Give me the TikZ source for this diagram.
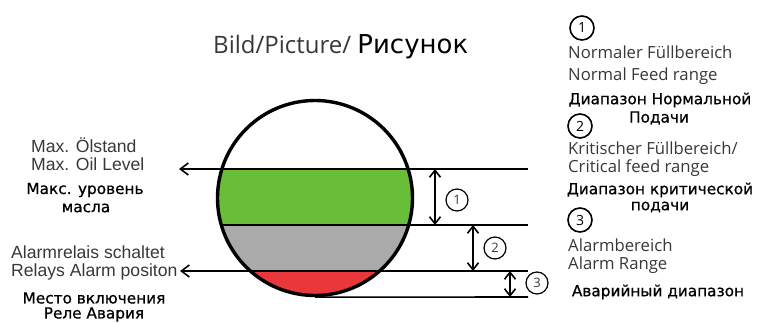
\documentclass[tikz,border=0pt]{standalone}
\usepackage{fontspec}
\setmainfont{Open Sans}
\newfontfamily\lfont{Liberation Sans}
\newfontfamily\rufont[FakeBold=0.8]{DejaVu Sans}
\newfontfamily\titleru{DejaVu Sans}
\usetikzlibrary{positioning, calc, arrows.meta}

\definecolor{oilgreen}{RGB}{104,190,56}
\definecolor{oilgray}{RGB}{170,170,170}
\definecolor{oilred}{RGB}{232,56,60}
\definecolor{txtgray}{RGB}{56,56,56}

\tikzset{
  levelline/.style={line width=1.6pt},
  pointer/.style={levelline, -{Straight Barb[length=8pt,width=12pt]}},
  dimarrow/.style={line width=1.6pt, {Straight Barb[length=7pt,width=11pt]}-{Straight Barb[length=7pt,width=11pt]}},
  numcirc/.style={circle, draw, line width=1.2pt, minimum size=22pt, inner sep=0pt, text=txtgray, font=\fontsize{13}{15}\selectfont},
  bignum/.style={numcirc, line width=1.6pt, minimum size=24pt, text=black, font=\fontsize{14}{16}\selectfont},
  lefttext/.style={inner sep=0pt, text=txtgray, font=\lfont\fontsize{17.6}{19}\selectfont},
  righttext/.style={inner sep=0pt, anchor=west, text=txtgray, font=\fontsize{16.7}{19}\selectfont},
  rutext/.style={inner sep=0pt, text=black, font=\rufont\fontsize{15.3}{17}\selectfont},
}

\begin{document}
\begin{tikzpicture}[x=1pt,y=-1pt]
  \useasboundingbox (0,0) rectangle (758,323);

  %Titel
  \node[inner sep=0pt, anchor=west, font=\fontsize{24}{26}\selectfont] (title) at (213,47)
    {\textcolor{txtgray}{Bild/Picture/} {\titleru\fontsize{26}{26}\selectfont Рисунок}};

  %Füllstände
  \begin{scope}
    \clip (315,198) circle (97.5);
    \fill[oilgreen] (200,169) rectangle (430,225);
    \fill[oilgray] (200,225) rectangle (430,271);
    \fill[oilred] (200,271) rectangle (430,300);
  \end{scope}
  \node[circle, draw, line width=3.4pt, minimum size=195pt, inner sep=0pt] (tank) at (315,198) {};

  %Linien
  \coordinate (maxr) at (528,169);
  \coordinate (maxtip) at (179,169);
  \coordinate (critl) at (222,225);
  \coordinate (critr) at (528,225);
  \coordinate (alarmr) at (528,271);
  \coordinate (alarmtip) at (180,271);
  \coordinate (botl) at (tank.south);
  \coordinate (botr) at (528,297);

  \draw[pointer] (maxr) -- (maxtip);
  \draw[levelline] (critl) -- (critr);
  \draw[pointer] (alarmr) -- (alarmtip);
  \draw[levelline] (botl) -- (botr);

  %Bereiche
  \coordinate (d1a) at (435,169);
  \coordinate (d1b) at (435,225);
  \coordinate (d2a) at (473,225);
  \coordinate (d2b) at (473,271);
  \coordinate (d3a) at (510,271);
  \coordinate (d3b) at (510,297);
  \draw[dimarrow] (d1a) -- (d1b);
  \draw[dimarrow] (d2a) -- (d2b);
  \draw[dimarrow] (d3a) -- (d3b);

  \node[numcirc] (n1) at (457,200) {1};
  \node[numcirc] (n2) at (495,248) {2};
  \node[numcirc] (n3) at (537,283) {3};

  %links
  \node[lefttext, anchor=west] (maxde) at (31,145) {Max. Ölstand};
  \node[lefttext, anchor=west] (maxen) at (31,164) {Max. Oil Level};
  \node[rutext] (maxru1) at (85,190) {Макс. уровень};
  \node[rutext] (maxru2) at (86,208) {масла};
  \node[lefttext, anchor=west] (alde) at (11,252) {Alarmrelais schaltet};
  \node[lefttext, anchor=west] (alen) at (11,272) {Relays Alarm positon};
  \node[rutext] (alru1) at (94,298) {Место включения};
  \node[rutext] (alru2) at (94,314.5) {Реле Авария};

  %rechts
  \node[bignum] (r1) at (582,28) {1};
  \node[righttext] (r1de) at (568,52) {Normaler Füllbereich};
  \node[righttext] (r1en) at (568,76) {Normal Feed range};
  \node[rutext] (r1ru1) at (660,100) {Диапазон Нормальной};
  \node[rutext] (r1ru2) at (659,118) {Подачи};

  \node[bignum] (r2) at (580,126) {2};
  \node[righttext] (r2de) at (568,148) {Kritischer Füllbereich/};
  \node[righttext] (r2en) at (568,168) {Critical feed range};
  \node[rutext] (r2ru1) at (660,190) {Диапазон критической};
  \node[rutext] (r2ru2) at (660,207) {подачи};

  \node[bignum] (r3) at (580,220) {3};
  \node[righttext] (r3de) at (568,245) {Alarmbereich};
  \node[righttext] (r3en) at (568,265) {Alarm Range};
  \node[rutext] (r3ru) at (658,292) {Аварийный диапазон};
\end{tikzpicture}
\end{document}
